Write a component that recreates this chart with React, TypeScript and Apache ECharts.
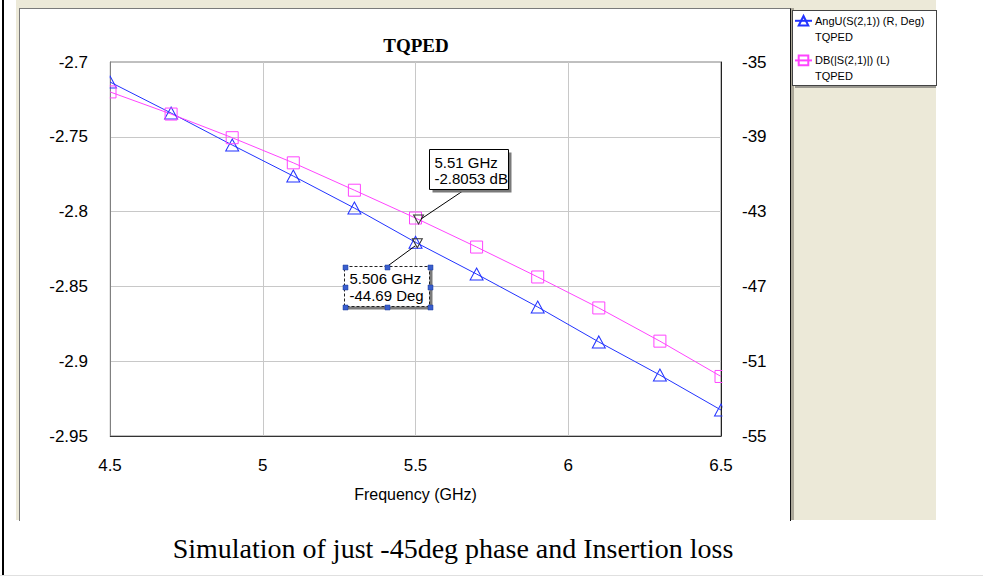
import React, { useEffect, useRef } from "react";
import * as echarts from "echarts";

// ---- data ----
const freqs = [4.5, 4.7, 4.9, 5.1, 5.3, 5.5, 5.7, 5.9, 6.1, 6.3, 6.5];
const angDeg = [-36.07, -37.73, -39.44, -41.1, -42.81, -44.64, -46.34, -48.1, -49.97, -51.74, -53.61];
const dbS21 = [-2.72, -2.7348, -2.7506, -2.7674, -2.7857, -2.8043, -2.8237, -2.8437, -2.8644, -2.8866, -2.9102];
const xRange = [4.5, 6.5];
const xStep = 0.5;
const leftRange = [-2.95, -2.7];
const leftStep = 0.05;
const rightRange = [-55, -35];
const rightStep = 4;
const markerDbPoint = [5.51, -2.8053];
const markerDbLabel = ["5.51 GHz", "-2.8053 dB"];
const markerAngPoint = [5.506, -44.69];
const markerAngLabel = ["5.506 GHz", "-44.69 Deg"];
const blueName = "AngU(S(2,1)) (R, Deg)";
const pinkName = "DB(|S(2,1)|) (L)";
const subName = "TQPED";
const titleText = "TQPED";
const xName = "Frequency (GHz)";
const caption = "Simulation of just -45deg phase and Insertion loss";

const BLUE = "#2233ff";
const PINK = "#ff44ff";
const SANS = 'Arial, "Liberation Sans", sans-serif';
const SERIF = '"Times New Roman", "Liberation Serif", serif';

const G = { left: 110, top: 62, width: 611, height: 374 };

export default function App() {
  const ref = useRef<HTMLDivElement>(null);

  useEffect(() => {
    document.body.style.margin = "0";
    if (!ref.current) return;
    const chart = echarts.init(ref.current, null, { renderer: "svg" });

    const fmt = (v: number) => String(parseFloat(v.toFixed(3)));

    chart.setOption({
      animation: false,
      grid: { ...G, show: true, borderColor: "#808080", borderWidth: 1, containLabel: false },
      legend: {
        data: [blueName, pinkName],
        orient: "vertical",
        left: 794,
        top: 15,
        itemWidth: 17,
        itemHeight: 12,
        itemGap: 28,
        padding: 0,
        selectedMode: false,
        textStyle: { fontSize: 11, fontFamily: SANS, color: "#000", padding: [0, 0, 0, -2] },
      },
      xAxis: {
        type: "value",
        min: xRange[0],
        max: xRange[1],
        interval: xStep,
        name: xName,
        nameLocation: "middle",
        nameGap: 50,
        nameTextStyle: { fontSize: 16, fontFamily: SANS, color: "#000" },
        axisLine: { show: true, lineStyle: { color: "#333", width: 1 } },
        axisTick: { show: false },
        axisLabel: { fontSize: 17, fontFamily: SANS, color: "#000", margin: 21, formatter: fmt },
        splitLine: { show: true, showMinLine: false, showMaxLine: false, lineStyle: { color: "#c8c8c8", width: 1 } },
      },
      yAxis: [
        {
          type: "value",
          position: "left",
          min: leftRange[0],
          max: leftRange[1],
          interval: leftStep,
          axisLine: { show: true, lineStyle: { color: "#808080", width: 1 } },
          axisTick: { show: false },
          axisLabel: { fontSize: 17, fontFamily: SANS, color: "#000", margin: 22, formatter: fmt },
          splitLine: { show: true, showMinLine: false, showMaxLine: false, lineStyle: { color: "#c8c8c8", width: 1 } },
        },
        {
          type: "value",
          position: "right",
          min: rightRange[0],
          max: rightRange[1],
          interval: rightStep,
          axisLine: { show: true, lineStyle: { color: "#222", width: 1 } },
          axisTick: { show: false },
          axisLabel: { fontSize: 17, fontFamily: SANS, color: "#000", margin: 21, formatter: fmt },
          splitLine: { show: false },
        },
      ],
      series: [
        {
          name: blueName,
          type: "line",
          yAxisIndex: 1,
          data: freqs.map((f, i) => [f, angDeg[i]]),
          symbol: "triangle",
          symbolSize: [13, 12],
          itemStyle: { color: "rgba(255,255,255,0)", borderColor: BLUE, borderWidth: 1 },
          lineStyle: { color: BLUE, width: 1 },
          markPoint: {
            silent: true,
            symbol: "triangle",
            symbolRotate: 180,
            symbolSize: [10, 9],
            itemStyle: { color: "rgba(0,0,0,0)", borderColor: "#333", borderWidth: 1 },
            label: { show: false },
            data: [{ coord: markerAngPoint }],
          },
        },
        {
          name: pinkName,
          type: "line",
          yAxisIndex: 0,
          data: freqs.map((f, i) => [f, dbS21[i]]),
          symbol: "rect",
          symbolSize: 12,
          itemStyle: { color: "rgba(255,255,255,0)", borderColor: PINK, borderWidth: 1 },
          lineStyle: { color: PINK, width: 1 },
          markPoint: {
            silent: true,
            symbol: "triangle",
            symbolRotate: 180,
            symbolSize: [10, 9],
            itemStyle: { color: "rgba(0,0,0,0)", borderColor: "#333", borderWidth: 1 },
            label: { show: false },
            data: [{ coord: markerDbPoint }],
          },
        },
      ],
    });

    const p1 = chart.convertToPixel({ xAxisIndex: 0, yAxisIndex: 0 }, markerDbPoint) as number[];
    const p2 = chart.convertToPixel({ xAxisIndex: 0, yAxisIndex: 1 }, markerAngPoint) as number[];
    const m1 = [Math.round(p1[0]), Math.round(p1[1])];
    const m2 = [Math.round(p2[0]), Math.round(p2[1])];

    const textEl = (x: number, y: number, text: string, size: number, extra: any = {}) => ({
      type: "text",
      x,
      y,
      z: 30,
      silent: true,
      style: {
        text,
        fontSize: size,
        fontFamily: SANS,
        fill: "#000",
        align: "left",
        verticalAlign: "middle",
        ...extra,
      },
    });

    // box 1 (dB marker)
    const b1 = { x: m1[0] + 10 + 0.5, y: m1[1] - 71 + 0.5, w: 79, h: 40 };
    // box 2 (deg marker)
    const b2 = { x: m2[0] - 73 + 0.5, y: m2[1] + 23 + 0.5, w: 85, h: 40 };
    const handles: any[] = [];
    const hx = [b2.x, b2.x + b2.w / 2, b2.x + b2.w];
    const hy = [b2.y, b2.y + b2.h / 2, b2.y + b2.h];
    hx.forEach((x, i) =>
      hy.forEach((y, j) => {
        if (i === 1 && j === 1) return;
        handles.push({
          type: "rect",
          z: 32,
          silent: true,
          shape: { x: Math.round(x) - 2, y: Math.round(y) - 2, width: 5, height: 5 },
          style: { fill: "#3a5fcd", stroke: "#1a3a9a", lineWidth: 0.5 },
        });
      })
    );

    const clipCovers = [
      { type: "rect", z: 10, silent: true, shape: { x: G.left - 10, y: G.top - 8, width: 9.6, height: G.height + 16 }, style: { fill: "#fff" } },
      { type: "rect", z: 10, silent: true, shape: { x: G.left + G.width + 1.4, y: G.top - 8, width: 10, height: G.height + 16 }, style: { fill: "#fff" } },
    ];

    chart.setOption({
      graphic: [
        ...clipCovers,
        {
          type: "text",
          x: G.left + G.width / 2 + 0.5,
          y: 45,
          z: 30,
          silent: true,
          style: { text: titleText, fontSize: 19, fontWeight: "bold", fontFamily: SERIF, fill: "#000", align: "center", verticalAlign: "middle" },
        },
        textEl(815, 37, subName, 11),
        textEl(815, 76, subName, 11),
        {
          type: "text",
          x: 453,
          y: 548,
          z: 30,
          silent: true,
          style: { text: caption, fontSize: 28, fontFamily: SERIF, fill: "#000", align: "center", verticalAlign: "middle" },
        },
        // annotation 1
        { type: "line", z: 25, silent: true, shape: { x1: m1[0] + 46, y1: b1.y + b1.h, x2: m1[0] + 2, y2: m1[1] - 1 }, style: { stroke: "#000", lineWidth: 1 } },
        { type: "rect", z: 26, silent: true, shape: { x: b1.x + 3, y: b1.y + 3, width: b1.w, height: b1.h }, style: { fill: "#7a7a7a" } },
        { type: "rect", z: 27, silent: true, shape: { x: b1.x, y: b1.y, width: b1.w, height: b1.h }, style: { fill: "#fff", stroke: "#000", lineWidth: 1 } },
        textEl(b1.x + 5, b1.y + 13, markerDbLabel[0], 15),
        textEl(b1.x + 5, b1.y + 29, markerDbLabel[1], 15),
        // annotation 2
        { type: "line", z: 25, silent: true, shape: { x1: m2[0] - 30, y1: b2.y, x2: m2[0] - 2, y2: m2[1] + 3 }, style: { stroke: "#000", lineWidth: 1 } },
        { type: "rect", z: 26, silent: true, shape: { x: b2.x + 3, y: b2.y + 3, width: b2.w, height: b2.h }, style: { fill: "#7a7a7a" } },
        { type: "rect", z: 27, silent: true, shape: { x: b2.x, y: b2.y, width: b2.w, height: b2.h }, style: { fill: "#fff", stroke: "#222", lineWidth: 1, lineDash: [3, 2] } },
        textEl(b2.x + 5, b2.y + 12, markerAngLabel[0], 15),
        textEl(b2.x + 5, b2.y + 29, markerAngLabel[1], 15),
        ...handles,
      ],
    });

    return () => chart.dispose();
  }, []);

  const abs = (s: React.CSSProperties): React.CSSProperties => ({ position: "absolute", ...s });

  return (
    <div style={{ position: "fixed", left: 0, top: 0, width: 983, height: 576, background: "#fff", overflow: "hidden" }}>
      <div style={abs({ left: 2, top: 0, width: 2, height: 576, background: "#000" })} />
      <div style={abs({ left: 0, top: 575, width: 983, height: 1, background: "#e0e0e0" })} />
      <div style={abs({ left: 16, top: 0, width: 920, height: 520, background: "#ECE9D8" })} />
      <div style={abs({ left: 19, top: 8, width: 770, height: 512, background: "#fff", borderLeft: "1px solid #7a7a7a", borderTop: "1px solid #7a7a7a", borderRight: "1px solid #111" })} />
      <div style={abs({ left: 791, top: 8, width: 3, height: 512, background: "#aca899" })} />
      <div style={abs({ left: 795, top: 85, width: 141, height: 3, background: "#9a9890" })} />
      <div style={abs({ left: 792, top: 10, width: 143, height: 74, background: "#fff", border: "1px solid #444" })} />
      <div ref={ref} style={abs({ left: 0, top: 0, width: 983, height: 576 })} />
    </div>
  );
}
